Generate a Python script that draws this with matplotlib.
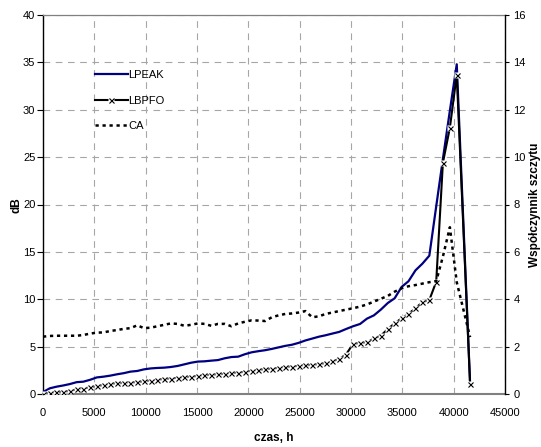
import matplotlib
matplotlib.use("Agg")
import matplotlib.pyplot as plt
from matplotlib import font_manager

names = {f.name for f in font_manager.fontManager.ttflist}
FONT = "Liberation Sans Narrow" if "Liberation Sans Narrow" in names else "Liberation Sans"
plt.rcParams["font.family"] = [FONT, "DejaVu Sans"]
FS = 9 if FONT == "Liberation Sans Narrow" else 8

# czas, h
czas = [0, 660, 1310, 1970, 2620, 3280, 3930, 4590, 5240, 5900,
        6560, 7210, 7870, 8520, 9180, 9830, 10490, 11140, 11800, 12450,
        13110, 13770, 14420, 15080, 15730, 16390, 17040, 17700, 18350, 19010,
        19670, 20320, 20980, 21630, 22290, 22940, 23600, 24250, 24910, 25560,
        26220, 26880, 27530, 28190, 28840, 29500,
        30200, 30880, 31550, 32230, 32900, 33580, 34250, 34930, 35600, 36280,
        36950, 37630, 38300,
        38950, 39630, 40300, 41600]

# LPEAK, dB
lpeak = [0.2, 0.6, 0.77, 0.9, 1.05, 1.25, 1.3, 1.5, 1.75, 1.83,
         1.94, 2.08, 2.2, 2.36, 2.43, 2.6, 2.7, 2.75, 2.78, 2.85,
         2.96, 3.13, 3.3, 3.42, 3.45, 3.52, 3.58, 3.77, 3.9, 3.94,
         4.2, 4.4, 4.52, 4.62, 4.76, 4.92, 5.08, 5.2, 5.4, 5.65,
         5.85, 6.05, 6.2, 6.38, 6.55, 6.85,
         7.15, 7.39, 7.95, 8.3, 8.9, 9.6, 10.1, 11.3, 11.9, 13.05,
         13.75, 14.6, 19.8,
         24.8, 29.9, 34.8, 1.1]

# LBPFO, dB
lbpfo = [0.05, 0.1, 0.18, 0.25, 0.32, 0.5, 0.58, 0.7, 0.8, 0.95,
         1.08, 1.12, 1.16, 1.2, 1.25, 1.32, 1.42, 1.5, 1.58, 1.62,
         1.72, 1.76, 1.83, 1.9, 1.97, 2.03, 2.08, 2.12, 2.22, 2.25,
         2.35, 2.45, 2.55, 2.6, 2.68, 2.75, 2.85, 2.9, 2.97, 3.02,
         3.08, 3.15, 3.25, 3.45, 3.7, 4.15,
         5.28, 5.38, 5.45, 5.87, 6.15, 6.85, 7.46, 7.99, 8.48, 9.04,
         9.7, 9.92, 11.85,
         24.4, 28.1, 33.7, 1.1]

# CA, współczynnik szczytu (right axis)
ca = [2.42, 2.45, 2.46, 2.46, 2.46, 2.46, 2.49, 2.55, 2.59, 2.60,
      2.66, 2.70, 2.75, 2.78, 2.90, 2.78, 2.80, 2.86, 2.92, 2.98,
      2.96, 2.88, 2.92, 2.98, 2.96, 2.88, 2.96, 2.96, 2.86, 2.98,
      3.05, 3.11, 3.10, 3.08, 3.24, 3.32, 3.38, 3.40, 3.44, 3.50,
      3.24, 3.28, 3.38, 3.44, 3.50, 3.56,
      3.62, 3.69, 3.78, 3.90, 4.02, 4.14, 4.32, 4.46, 4.55, 4.60,
      4.66, 4.72, 4.76,
      5.80, 7.04, 4.72, 2.40]

x_ticks = [0, 5000, 10000, 15000, 20000, 25000, 30000, 35000, 40000, 45000]
y_ticks = [0, 5, 10, 15, 20, 25, 30, 35, 40]
y2_ticks = [0, 2, 4, 6, 8, 10, 12, 14, 16]

W, H = 541, 447
fig = plt.figure(figsize=(W / 100, H / 100), dpi=100)
L, R, T, B = 43, 505, 15, 394
ax = fig.add_axes([L / W, 1 - B / H, (R - L) / W, (B - T) / H])
ax2 = ax.twinx()

ax.set_xlim(0, 45000)
ax.set_ylim(0, 40)
ax2.set_ylim(0, 16)
ax.set_xticks(x_ticks)
ax.set_yticks(y_ticks)
ax2.set_yticks(y2_ticks)
ax.set_xticklabels([str(v) for v in x_ticks])

ax.grid(True, color="#a6a6a6", lw=0.8, ls=(0, (6, 5)))

l1, = ax.plot(czas, lpeak, color="#000080", lw=1.6, zorder=3, label="LPEAK")
l2a, = ax.plot(czas, lbpfo, color="black", lw=1.5, zorder=4)
l2b, = ax.plot(czas, lbpfo, ls="none", marker="s", ms=4.3, mfc="white",
               mec="none", zorder=5)
l2c, = ax.plot(czas, lbpfo, ls="none", marker="x", ms=3.6, mew=0.8,
               color="black", zorder=6)
l3, = ax2.plot(czas, ca, color="black", lw=1.8, ls=(0, (1.3, 1.5)),
               dash_capstyle="butt", zorder=3)

ax.spines["top"].set_color("#808080")
ax.spines["top"].set_linewidth(0.9)
ax.spines["bottom"].set_color("#808080")
ax.spines["bottom"].set_linewidth(1.5)
ax.spines["left"].set_color("black")
ax.spines["left"].set_linewidth(1.0)
ax.spines["right"].set_visible(False)
for s in ["top", "bottom", "left"]:
    ax2.spines[s].set_visible(False)
ax2.spines["right"].set_color("black")
ax2.spines["right"].set_linewidth(1.0)

ax.tick_params(axis="y", direction="out", length=4, width=0.8, pad=1.5,
               labelsize=FS, colors="black")
ax.tick_params(axis="x", length=0, pad=10, labelsize=FS)
ax2.tick_params(axis="y", direction="out", length=3, width=0.8, pad=3,
                labelsize=FS)

fig.text(17 / W, 1 - 205 / H, "dB", rotation=90, ha="center", va="center",
         fontsize=FS + 0.5, fontweight="bold")
fig.text(535 / W, 1 - 205 / H, "Współczynnik szczytu", rotation=90,
         ha="center", va="center", fontsize=FS + 0.5, fontweight="bold")
fig.text(274 / W, 1 - 438 / H, "czas, h", ha="center", va="center",
         fontsize=FS + 0.5, fontweight="bold")

leg = ax2.legend([l1, (l2a, l2b, l2c), l3], ["LPEAK", "LBPFO", "CA"],
                 loc="upper left", bbox_to_anchor=(95 / W, 1 - 70 / H),
                 bbox_transform=fig.transFigure, frameon=False,
                 borderpad=0, borderaxespad=0, handlelength=2.95,
                 handletextpad=0.05, labelspacing=1.4, numpoints=1,
                 fontsize=FS)

fig.savefig("out.png", dpi=100)
